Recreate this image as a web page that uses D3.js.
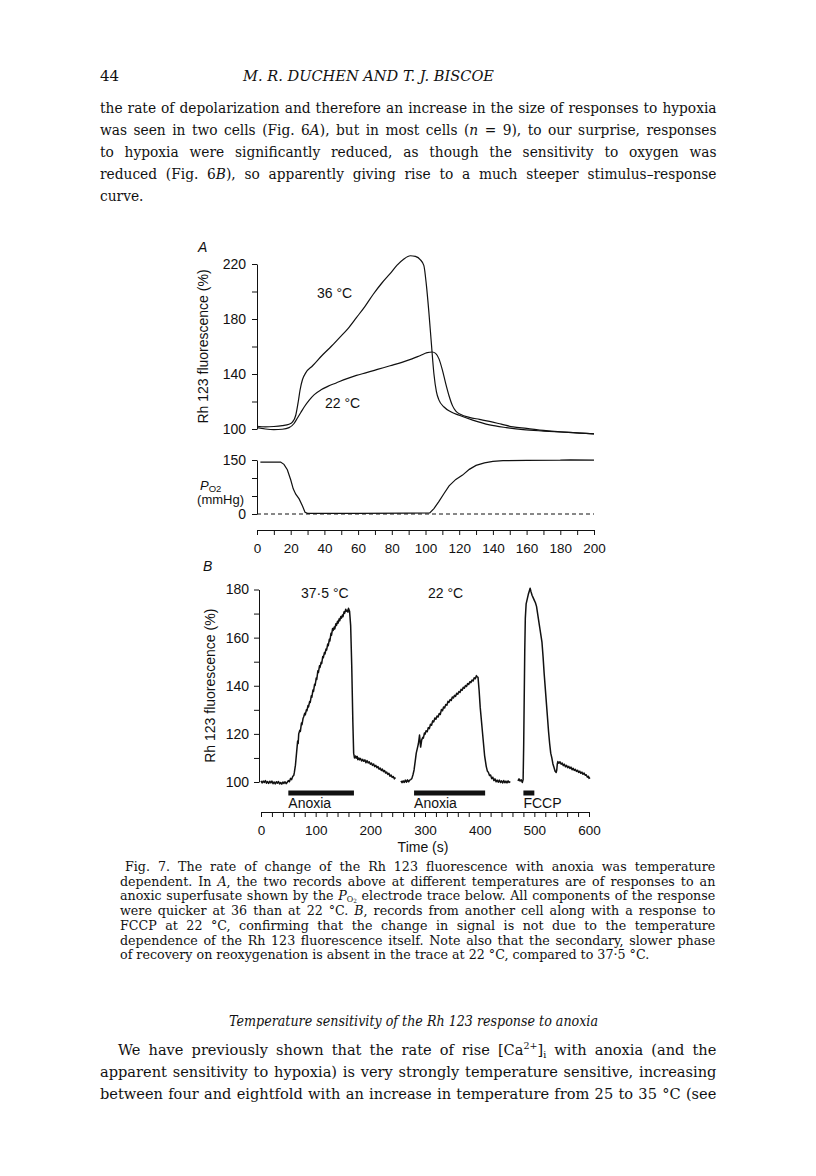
<!DOCTYPE html>
<html><head><meta charset="utf-8">
<script src="https://cdn.jsdelivr.net/npm/d3@7"></script>
<style>body{margin:0;background:#fff}</style>
</head><body>
<svg id="page" width="816" height="1176"></svg>
<script>
// ---------------- DATA ----------------
// Panel A : [time (s), Rh 123 fluorescence (%)]
const traceA36 = [[0,102],[5,101.5],[10,101.8],[15,102.5],[19,103.5],[21,105],[23,110],[24.5,120],[25.5,128],[27,136],[29,141],[33,146],[39,154],[44,160],[49,166.5],[54,173],[59,181],[64,189],[69,198],[74,206],[79,213],[83,219],[87,223.5],[91,226],[94,225.5],[97,223],[99,219],[100.5,205],[102,185],[103.5,162],[105,140],[106.5,127],[108,121],[111,116],[115,112.5],[120,110],[128,106.5],[138,103],[148,101],[158,99.5],[170,98.5],[185,97.5],[200,96.5]];
const traceA22 = [[0,101],[5,100],[10,99.5],[15,99.8],[19,101],[22,104],[24,108],[26,112],[28,116],[31,121],[34,125],[38,128.5],[42,131],[47,133.5],[53,136.5],[59,139],[65,141],[72,143.5],[79,146],[86,148.5],[92,151],[97,153.5],[101,155.5],[104,156],[106,155],[108,151],[110,143],[112,133],[114,124],[116,117],[118,113],[121,110.5],[126,108.5],[132,107],[138,105.5],[145,103.5],[152,101.5],[160,100.5],[170,99],[185,97.5],[200,96.5]];
// Panel A : [time (s), Po2 (mmHg)]
const tracePO2 = [[2,144],[8,144],[14,144.5],[16,138],[18,123],[20,95],[21.5,70],[23,55],[25,42],[27,22],[28.5,5],[30,2],[60,2],[90,2.5],[102.5,3],[105,15],[108,35],[111,57],[114,78],[118,96],[122,108],[126,124],[130,135],[135,142],[140,146],[146,148],[160,149],[180,149.5],[186,150.5],[200,149.5]];
// Panel B : [time (s), Rh 123 fluorescence (%)]
const traceB375 = [[0,100.5],[2,99.6],[4,100.4],[6,99.8],[8,100.6],[10,99.5],[12,100.2],[14,99.4],[16,100.3],[18,99.6],[20,100.4],[22,99.3],[24,100],[26,99.2],[28,100.1],[30,99.5],[32,100.2],[34,99.2],[36,99.8],[38,99.1],[40,100],[42,99.4],[44,100.1],[46,99.3],[48,99.9],[50,100.6],[52,100.1],[54,101.5],[56,101],[58,102.3],[60,102.8],[61,104],[63,107],[65,112],[67,117],[68,116],[69,120],[71,121.5],[72,121],[74,124.5],[75,123.8],[77,126.5],[78,127],[80,128.6],[81,127.9],[83,130],[84,129.6],[86,131.8],[87,131.2],[89,133.5],[90,133],[92,135.8],[93,135.2],[95,138.2],[96,137.6],[98,140.6],[99,140.1],[101,143.2],[102,142.6],[104,146.2],[105,145.5],[107,148.3],[108,147.6],[110,149.8],[111,149.2],[113,152.2],[114,151.6],[116,153.8],[117,153.2],[119,155.3],[120,154.8],[122,157.3],[123,156.6],[125,159.3],[126,158.6],[128,161.8],[129,161],[131,163.8],[132,163],[134,164.4],[135,163.6],[137,165.8],[138,165],[140,166.8],[141,166],[143,167.8],[144,167],[146,168.8],[147,168.1],[149,169.4],[150,168.7],[152,170.8],[153,170.1],[155,171.8],[156,171],[158,171.4],[159,170.6],[160,172.2],[162,171],[164,165],[166,148],[168,125],[169.5,112],[171,110],[173,110.8],[174,109.9],[176,110.6],[177,109.3],[179,110],[180,109.2],[182,109.8],[184,108.7],[186,109.4],[188,108.6],[190,109.2],[192,108],[194,108.9],[196,107.9],[198,108.4],[200,107.4],[202,107.9],[204,106.9],[206,107.5],[208,106.4],[210,106.9],[212,105.9],[214,106.4],[216,105.3],[218,105.8],[220,104.8],[222,105.4],[224,104.3],[226,104.8],[228,103.7],[230,104.1],[232,103.1],[234,103.6],[236,102.4],[238,102.9],[240,101.9],[242,102.3],[244,101.3],[246,101.9]];
const traceB22 = [[256,100.5],[258,99.7],[260,100.5],[262,99.8],[264,100.8],[266,99.9],[268,100.9],[270,100.1],[272,100.8],[274,101],[276,101.5],[278,103],[280,105],[282,108.5],[284,112],[286,114],[288,116],[290,119.5],[291,117],[292,114.5],[294,117.5],[296,118.6],[297,118.2],[299,120.4],[300,119.8],[302,121.3],[304,120.9],[306,122.6],[308,122.2],[310,124],[312,123.6],[314,125.4],[316,125],[318,126.6],[320,126.1],[322,127.4],[324,127],[326,128.5],[328,128.1],[330,130.1],[332,129.6],[334,131.2],[336,130.8],[338,132.2],[340,131.9],[342,133.5],[344,133.1],[346,134.3],[348,133.9],[350,135.3],[352,134.9],[354,136],[356,135.6],[358,136.9],[360,136.5],[362,137.6],[364,137.2],[366,138.5],[368,138.1],[370,139.4],[372,139],[374,140.1],[376,139.7],[378,140.9],[380,140.5],[382,141.7],[384,141.3],[386,142.4],[388,142],[390,143.3],[392,142.9],[394,144.2],[395,143.8],[397,143.5],[399,138],[401,131],[403,126],[405,121],[407,116],[409,111],[412,106.5],[414,104.6],[416,104],[418,102.7],[420,102.9],[422,101.4],[424,102],[426,100.6],[428,101.3],[430,100.1],[432,100.8],[434,99.9],[436,100.8],[438,99.8],[440,100.5],[442,99.6],[444,100.6],[446,99.7],[448,100.4],[450,99.6],[452,100.5],[454,99.8],[456,100.2]];
const traceBFCCP = [[470,100.5],[472,101.3],[474,100.4],[476,100.9],[478,99.8],[479.5,101],[480.5,115],[481.5,135],[482.5,155],[483.5,168],[485,174],[487,176],[489,178],[491,179.5],[492.3,180.5],[494,179],[496,177.5],[498,176.5],[500,175.5],[502,174.5],[504,173],[506,170],[508,167],[510,164],[512,161],[514,158],[516,152],[518,145],[520,139],[522,133],[524,127],[526,121],[528,116],[530,112],[532,110],[534,107.5],[536,106],[538,104.5],[540,104],[541,105],[542,107.5],[543,108.5],[545,107.8],[547,108.4],[549,107.4],[551,107.9],[553,106.8],[555,107.4],[557,106.3],[559,106.9],[561,105.9],[563,106.5],[565,105.6],[567,106.2],[569,105.1],[571,105.7],[573,104.8],[575,105.3],[577,104.4],[579,104.9],[581,104],[583,104.5],[585,103.6],[587,104.1],[589,103.2],[591,103.7],[593,102.8],[595,103],[597,102],[599,102.4],[600,101.5],[602,101.8]];
// Stimulus bars in B: [start, end, label]
const barsB = [[50,170,"Anoxia"],[280,410,"Anoxia"],[480,500,"FCCP"]];
// Ticks
const aYTicks = [100,120,140,160,180,200,220];
const aYLabels = [100,140,180,220];
const po2Ticks = [0,50,100,150];
const po2Labels = [0,150];
const aXTicks = d3.range(0,201,10);
const aXLabels = [0,20,40,60,80,100,120,140,160,180,200];
const bYTicks = [100,110,120,130,140,150,160,170,180];
const bYLabels = [100,120,140,160,180];
const bXTicks = d3.range(0,601,20);
const bXLabels = [0,100,200,300,400,500,600];

// ---------------- DRAW ----------------
const svg = d3.select('#page');
const SANS = '"Liberation Sans", Arial, Helvetica, sans-serif';
const SERIF = '"DejaVu Serif", "Liberation Serif", serif';
const INK = '#111';

function richText(g, x, y, segs, o) {
  const t = g.append('text').attr('x', x).attr('y', y)
    .attr('font-family', o.family || SERIF).attr('font-size', o.size).attr('fill', INK);
  if (o.italic) t.attr('font-style','italic');
  if (o.anchor) t.attr('text-anchor', o.anchor);
  let shift = 0;
  segs.forEach(s => {
    if (typeof s === 'string') s = {t: s};
    const target = s.sh || 0;
    const ts = t.append('tspan').text(s.t);
    if (s.i) ts.attr('font-style','italic');
    if (s.fs) ts.attr('font-size', o.size * s.fs);
    if (target !== shift) { ts.attr('dy', target - shift); shift = target; }
  });
  return t;
}
const txtG = svg.append('g');

// justified paragraph, horizontally condensed so the tightest line still has normal spacing
function paragraph(lines, o) {
  const g = txtG.append('g');
  const nodes = lines.map((l, i) => richText(g, 0, o.y0 + o.lh * i, l, {size: o.size}));
  const widths = nodes.map(n => n.node().getComputedTextLength());
  const starts = lines.map((l, i) => o.x0 + (i === 0 ? o.indent : 0));
  const just = lines.map((l, i) => i < lines.length - 1 || o.justifyLast);
  let sx = o.maxScale || 1;
  just.forEach((j, i) => { if (j) sx = Math.min(sx, (o.x1 - starts[i]) / (widths[i] * 1.015)); });
  g.attr('transform', `scale(${sx.toFixed(4)},1)`);
  nodes.forEach((n, i) => {
    n.attr('x', (starts[i] / sx).toFixed(2));
    if (just[i]) {
      const full = lines[i].map(s => typeof s === 'string' ? s : s.t).join('');
      const spaces = (full.match(/ /g) || []).length;
      n.attr('word-spacing', (((o.x1 - starts[i]) / sx - widths[i]) / spaces).toFixed(2));
    }
  });
}

// Header
richText(txtG, 100, 81, ['44'], {size: 15});
richText(txtG, 243, 81, ['M. R. DUCHEN AND T. J. BISCOE'], {size: 15, italic: true})
  .attr('textLength', 251).attr('lengthAdjust', 'spacingAndGlyphs');

const bodyLines = [
  ['the rate of depolarization and therefore an increase in the size of responses to hypoxia'],
  ['was seen in two cells (Fig. 6', {t:'A', i:1}, '), but in most cells (', {t:'n', i:1}, ' = 9), to our surprise, responses'],
  ['to hypoxia were significantly reduced, as though the sensitivity to oxygen was'],
  ['reduced (Fig. 6', {t:'B', i:1}, '), so apparently giving rise to a much steeper stimulus\u2013response'],
  ['curve.']
];
paragraph(bodyLines, {x0: 100, x1: 717, indent: 0, y0: 113, lh: 22, size: 15});

const capLines = [
  ['Fig. 7. The rate of change of the Rh 123 fluorescence with anoxia was temperature'],
  ['dependent. In ', {t:'A', i:1}, ', the two records above at different temperatures are of responses to an'],
  ['anoxic superfusate shown by the ', {t:'P', i:1}, {t:'O', fs:0.62, sh:2}, {t:'2', fs:0.45, sh:3}, ' electrode trace below. All components of the response'],
  ['were quicker at 36 than at 22 \u00B0C. ', {t:'B', i:1}, ', records from another cell along with a response to'],
  ['FCCP at 22 \u00B0C, confirming that the change in signal is not due to the temperature'],
  ['dependence of the Rh 123 fluorescence itself. Note also that the secondary, slower phase'],
  ['of recovery on reoxygenation is absent in the trace at 22 \u00B0C, compared to 37\u00B75 \u00B0C.']
];
paragraph(capLines, {x0: 120, x1: 716, indent: 5, y0: 871, lh: 14.75, size: 13});

// Bottom section
richText(txtG, 229, 1026, ['Temperature sensitivity of the Rh 123 response to anoxia'], {size: 15, italic: true})
  .attr('textLength', 369).attr('lengthAdjust', 'spacingAndGlyphs');
const endLines = [
  ['We have previously shown that the rate of rise [Ca', {t:'2+', fs:0.65, sh:-6}, ']', {t:'i', fs:0.65, sh:3}, ' with anoxia (and the'],
  ['apparent sensitivity to hypoxia) is very strongly temperature sensitive, increasing'],
  ['between four and eightfold with an increase in temperature from 25 to 35 \u00B0C (see']
];
paragraph(endLines, {x0: 100, x1: 717, indent: 18, y0: 1055, lh: 22, size: 15, justifyLast: true});

// ---------- Panel A ----------
const xA = d3.scaleLinear().domain([0,200]).range([257,594]);
const yA = d3.scaleLinear().domain([100,220]).range([429,264]);
const yP = d3.scaleLinear().domain([0,150]).range([514,460]);

function styleAxis(g, fs) {
  g.selectAll('path.domain').attr('stroke', INK).attr('stroke-width', 1);
  g.selectAll('.tick line').attr('stroke', INK).attr('stroke-width', 1);
  g.selectAll('.tick text').attr('font-family', SANS).attr('font-size', fs).attr('fill', INK);
}
const chart = svg.append('g');

const ayAxis = d3.axisLeft(yA).tickValues(aYTicks).tickSize(5).tickSizeOuter(0).tickPadding(6)
  .tickFormat(d => aYLabels.includes(d) ? d : '');
chart.append('g').attr('transform', `translate(${xA(0)},0)`).call(ayAxis).call(g => styleAxis(g, 14));

const pAxis = d3.axisLeft(yP).tickValues(po2Ticks).tickSize(5).tickSizeOuter(0).tickPadding(6)
  .tickFormat(d => po2Labels.includes(d) ? d : '');
chart.append('g').attr('transform', `translate(${xA(0)},0)`).call(pAxis).call(g => styleAxis(g, 14));

const axAxis = d3.axisBottom(xA).tickValues(aXTicks).tickSize(5).tickSizeOuter(0).tickPadding(8)
  .tickFormat(d => aXLabels.includes(d) ? d : '');
chart.append('g').attr('transform', 'translate(0,530)').call(axAxis).call(g => styleAxis(g, 13.5));

const lineA = d3.line().x(d => xA(d[0])).y(d => yA(d[1])).curve(d3.curveMonotoneX);
const lineP = d3.line().x(d => xA(d[0])).y(d => yP(d[1]));
[traceA36, traceA22].forEach(tr => chart.append('path').attr('d', lineA(tr))
  .attr('fill','none').attr('stroke', INK).attr('stroke-width', 1.2).attr('stroke-linejoin','round'));
chart.append('line').attr('x1', xA(0)).attr('x2', xA(200)).attr('y1', yP(0)).attr('y2', yP(0))
  .attr('stroke', INK).attr('stroke-width', 1).attr('stroke-dasharray', '4,3');
chart.append('path').attr('d', lineP(tracePO2)).attr('fill','none').attr('stroke', INK).attr('stroke-width', 1.2);

function sansText(x, y, txt, o = {}) {
  const t = chart.append('text').attr('x', x).attr('y', y).attr('font-family', SANS)
    .attr('font-size', o.size || 14).attr('fill', INK).text(txt);
  if (o.anchor) t.attr('text-anchor', o.anchor);
  if (o.italic) t.attr('font-style', 'italic');
  return t;
}
sansText(198, 252, 'A', {italic: true});
sansText(317, 298, '36 \u00B0C');
sansText(325, 408, '22 \u00B0C');
chart.append('text').attr('transform', `translate(208,${(yA(100)+yA(220))/2}) rotate(-90)`)
  .attr('text-anchor','middle').attr('font-family', SANS).attr('font-size', 14).attr('fill', INK)
  .text('Rh 123 fluorescence (%)');
// Po2 label
const po = chart.append('text').attr('x', 200).attr('y', 490).attr('font-family', SANS).attr('font-size', 13).attr('fill', INK);
po.append('tspan').attr('font-style','italic').text('P');
po.append('tspan').attr('font-size', 9.5).attr('dy', 2).text('O2');
sansText(244, 504, '(mmHg)', {anchor: 'end', size: 13});

// ---------- Panel B ----------
const xB = d3.scaleLinear().domain([0,600]).range([261,589]);
const yB = d3.scaleLinear().domain([100,180]).range([782,589.5]);
const byAxis = d3.axisLeft(yB).tickValues(bYTicks).tickSize(5).tickSizeOuter(0).tickPadding(5)
  .tickFormat(d => bYLabels.includes(d) ? d : '');
chart.append('g').attr('transform', `translate(259,0)`).call(byAxis).call(g => styleAxis(g, 14));
const bxAxis = d3.axisBottom(xB).tickValues(bXTicks).tickSize(5).tickSizeOuter(0).tickPadding(8)
  .tickFormat(d => bXLabels.includes(d) ? d : '');
chart.append('g').attr('transform', 'translate(0,812)').call(bxAxis).call(g => styleAxis(g, 13.5));

const lineB = d3.line().x(d => xB(d[0])).y(d => yB(d[1]));
[traceB375, traceB22, traceBFCCP].forEach(tr => chart.append('path').attr('d', lineB(tr))
  .attr('fill','none').attr('stroke', INK).attr('stroke-width', 1.5).attr('stroke-linejoin','round'));

barsB.forEach(b => {
  chart.append('rect').attr('x', xB(b[0])).attr('width', xB(b[1]) - xB(b[0]))
    .attr('y', 790.5).attr('height', 5).attr('fill', INK);
  sansText(xB(b[0]), 808, b[2]);
});
sansText(203, 571, 'B', {italic: true});
sansText(301, 598, '37\u00B75 \u00B0C');
sansText(428, 598, '22 \u00B0C');
sansText(xB(300) - 2, 852, 'Time (s)', {anchor: 'middle'});
chart.append('text').attr('transform', `translate(215,${(yB(100)+yB(180))/2}) rotate(-90)`)
  .attr('text-anchor','middle').attr('font-family', SANS).attr('font-size', 14).attr('fill', INK)
  .text('Rh 123 fluorescence (%)');
</script>
</body></html>
